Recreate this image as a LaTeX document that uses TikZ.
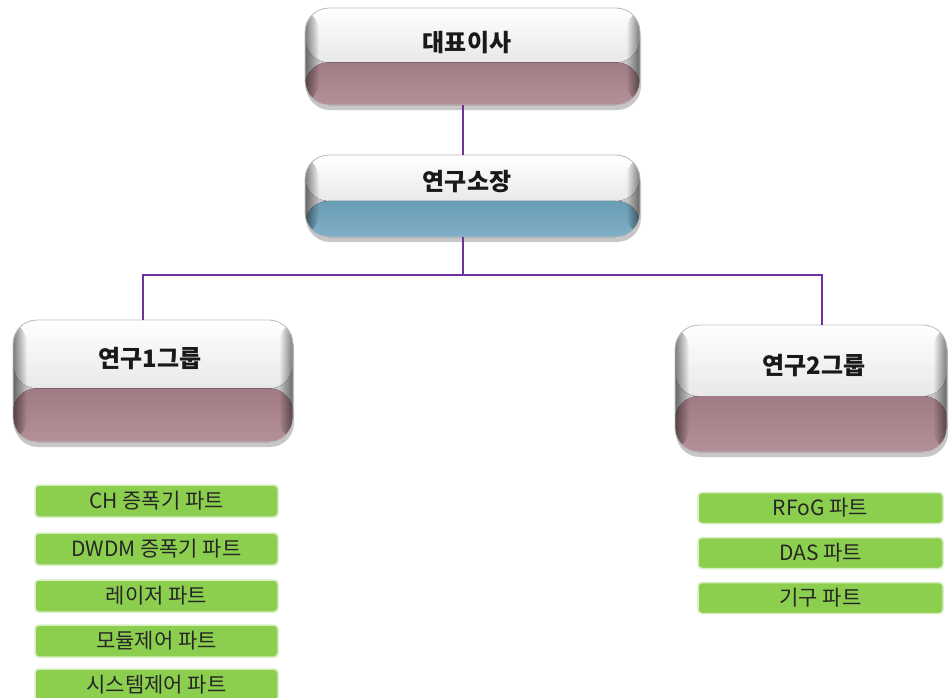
\documentclass[tikz,border=0pt]{standalone}
\usepackage{fontspec}
\setmainfont{Noto Sans CJK KR}
\usetikzlibrary{calc,shadows,fadings}
\definecolor{mauve}{HTML}{A9818A}
\definecolor{steel}{HTML}{6FA5BF}
\definecolor{partgreen}{HTML}{8CCF4F}
\definecolor{linepurple}{HTML}{7030A0}
\tikzfading[name=fadeL, left color=transparent!50, right color=transparent!100]
\tikzfading[name=fadeR, left color=transparent!100, right color=transparent!50]
\tikzset{
  gbox/.style={rectangle, rounded corners=24pt, inner sep=0pt, outer sep=0pt,
    draw=black!25, line width=0.8pt,
    drop shadow={shadow xshift=1pt, shadow yshift=-5pt, opacity=0.22, fill=black},
    path picture={
      \coordinate (pNW) at (path picture bounding box.north west);
      \coordinate (pSE) at (path picture bounding box.south east);
      \coordinate (pSW) at (path picture bounding box.south west);
      \coordinate (pNE) at (path picture bounding box.north east);
      \fill[top color=white, bottom color=black!9] (pNW) rectangle ($(pNE)!0.56!(pSE)$);
      \fill[top color=#1!95!black, bottom color=#1!88!white] ($(pNW)!0.56!(pSW)$) rectangle (pSE);
      \fill[black, path fading=fadeL] (pNW) rectangle ($(pSW)+(14pt,0pt)$);
      \fill[black, path fading=fadeR] ($(pNE)+(-14pt,0pt)$) rectangle (pSE);
    }},
  title/.style={font=\fontsize{24}{26}\selectfont\bfseries, text=black!90, inner sep=0pt},
  gpart/.style={rectangle, rounded corners=4pt, fill=partgreen, draw=partgreen!35!white,
    line width=1.5pt, minimum width=#1, minimum height=32pt, inner sep=0pt,
    font=\fontsize{21}{23}\selectfont, text=black!85},
  conn/.style={draw=linepurple, line width=2.6pt}
}
\begin{document}
\begin{tikzpicture}[x=1pt,y=-1pt]
\useasboundingbox (0,0) rectangle (949,697);
% bus coordinates
\coordinate (top) at (463,0);
\coordinate (bus) at (463,275);
\coordinate (busL) at (143,275);
\coordinate (busR) at (822,275);
% glossy boxes
\node[gbox=mauve, minimum width=335pt, minimum height=97pt] (ceo) at (472.5,56.5) {};
\node[title] (ceoT) at (467,43) {대표이사};
\node[gbox=steel, minimum width=335pt, minimum height=82pt] (dir) at (472.5,196) {};
\node[title] (dirT) at (467,182) {연구소장};
\node[gbox=mauve, minimum width=280pt, minimum height=122pt] (g1) at (153,381) {};
\node[title] (g1T) at (150,359) {연구1그룹};
\node[gbox=mauve, minimum width=272pt, minimum height=127pt] (g2) at (811,388.5) {};
\node[title] (g2T) at (814,366) {연구2그룹};
% connectors
\draw[conn] (ceo.south -| top) -- (dir.north -| top);
\draw[conn] (dir.south -| top) -- (bus);
\draw[conn] (g1.north -| busL) -- (busL) -- (busR) -- (g2.north -| busR);
% parts group 1
\node[gpart=243pt] (p1) at (156.5,501) {CH 증폭기 파트};
\node[gpart=243pt] (p2) at (156.5,549) {DWDM 증폭기 파트};
\node[gpart=243pt] (p3) at (156.5,596) {레이저 파트};
\node[gpart=243pt] (p4) at (156.5,641) {모듈제어 파트};
\node[gpart=243pt] (p5) at (156.5,685) {시스템제어 파트};
% parts group 2
\node[gpart=245pt, minimum height=31pt] (q1) at (820.5,508) {RFoG 파트};
\node[gpart=245pt, minimum height=31pt] (q2) at (820.5,553) {DAS 파트};
\node[gpart=245pt, minimum height=31pt] (q3) at (820.5,598) {기구 파트};
\end{tikzpicture}
\end{document}
